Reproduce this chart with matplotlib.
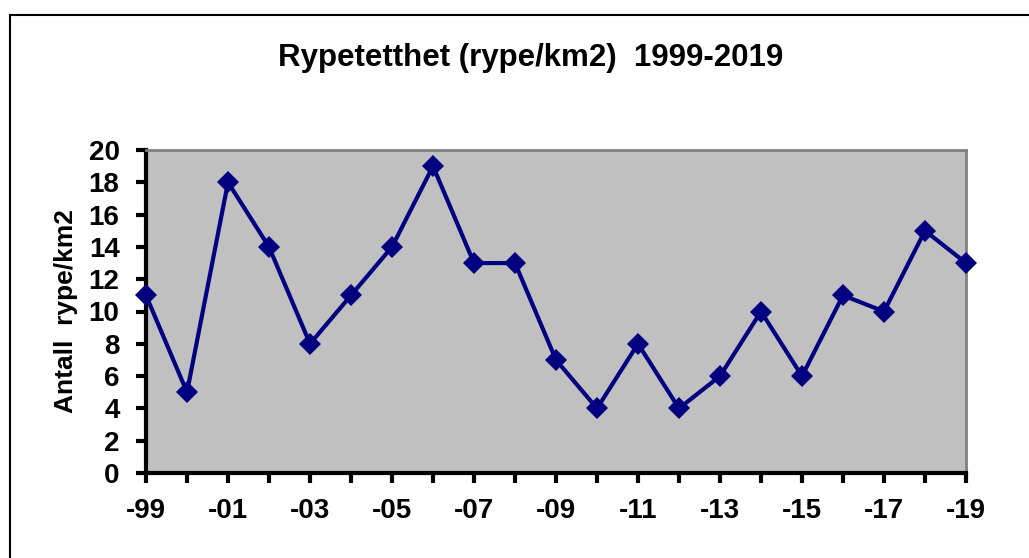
import matplotlib
matplotlib.use('Agg')
import matplotlib.pyplot as plt
from matplotlib.lines import Line2D

plt.rcParams['font.family'] = ['Liberation Sans', 'DejaVu Sans']

# dati
anni = list(range(1999, 2020))
tetthet = [11, 5, 18, 14, 8, 11, 14, 19, 13, 13, 7, 4, 8, 4, 6, 10, 6, 11, 10, 15, 13]
etichette_x = [f"-{str(a)[2:]}" for a in anni]
y_ticks = list(range(0, 21, 2))

W, H = 1029, 558
fig = plt.figure(figsize=(W / 100, H / 100), dpi=100)
ax = fig.add_axes([146 / W, 1 - 473 / H, 820 / W, 323 / H])

ax.set_facecolor('#c0c0c0')
ax.plot(range(len(anni)), tetthet, color='#000080', lw=3,
        marker='D', markersize=11.5, markeredgewidth=0, clip_on=False, zorder=5)

ax.set_xlim(0, len(anni) - 1)
ax.set_ylim(0, 20)
ax.set_xticks(range(len(anni)))
ax.set_xticklabels([lab if i % 2 == 0 else '' for i, lab in enumerate(etichette_x)])
ax.set_yticks(y_ticks)
ax.set_yticklabels([str(v) for v in y_ticks])

ax.tick_params(axis='both', direction='out', length=7, width=3, labelsize=20, color='black')
ax.tick_params(axis='x', pad=11)
ax.tick_params(axis='y', pad=12)
for lab in ax.get_xticklabels() + ax.get_yticklabels():
    lab.set_fontweight('bold')

ax.spines['left'].set_linewidth(3)
ax.spines['bottom'].set_linewidth(3)
ax.spines['top'].set_color('#808080')
ax.spines['right'].set_color('#808080')
ax.spines['top'].set_linewidth(2)
ax.spines['right'].set_linewidth(2)

ax.set_ylabel('Antall  rype/km2', fontsize=19, fontweight='bold', labelpad=8)

fig.text(531 / W, 1 - 58 / H, 'Rypetetthet (rype/km2)  1999-2019', ha='center', va='center',
         fontsize=22.5, fontweight='bold')

# cornice esterna
fig.add_artist(Line2D([10 / W, 10 / W], [0, 1 - 15 / H], color='black', lw=1.5, transform=fig.transFigure))
fig.add_artist(Line2D([10 / W, 1], [1 - 15 / H, 1 - 15 / H], color='black', lw=1.5, transform=fig.transFigure))

fig.savefig('out.png', dpi=100)
